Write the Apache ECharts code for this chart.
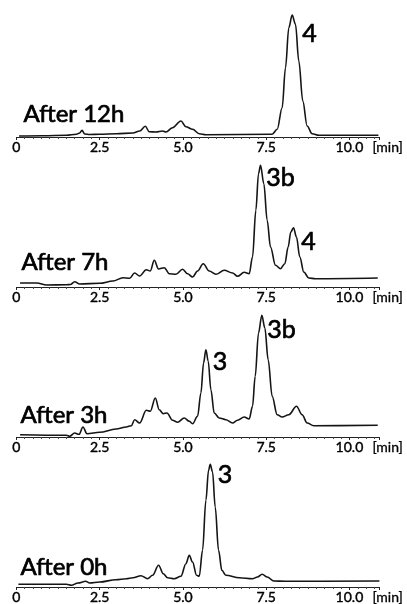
<!DOCTYPE html>
<html>
<head>
<meta charset="utf-8">
<script src="https://cdn.jsdelivr.net/npm/echarts@6/dist/echarts.min.js"></script>
<style>
html,body{margin:0;padding:0;background:#fff;}
#c{width:407px;height:604px;}
</style>
</head>
<body>
<div id="c"></div>
<script>
// ---- Data (retention time in min, detector signal in arbitrary units) ----
var panelNames = ['After 12h', 'After 7h', 'After 3h', 'After 0h'];
var xTicks = [0, 2.5, 5.0, 7.5, 10.0];

var t12 = [0.08,0.8,1.5,1.8,1.9,1.97,2.05,2.2,2.5,3.0,3.5,3.7,3.87,3.99,4.19,4.39,4.49,4.69,4.94,5.09,5.29,5.49,5.69,7.68,7.83,7.98,8.08,8.18,8.28,8.38,8.48,8.60,8.73,8.88,9.08,10.87];
var y12 = [1.0,1.3,1.7,2.7,4,6.7,3,2.5,2.7,3.3,4.0,6,10.7,5.3,5,6,5,9.3,16,10.3,7.7,3.3,2.3,2.7,7.7,29.3,69.3,109.3,122,112.7,76,36,11,3.3,1.7,1.7];

var t7 = [0.11,0.61,0.91,1.50,1.62,1.75,1.90,2.50,2.90,3.20,3.40,3.55,3.70,3.90,4.02,4.14,4.27,4.44,4.59,4.79,4.99,5.14,5.29,5.44,5.61,5.79,5.99,6.24,6.49,6.64,6.84,6.99,7.09,7.19,7.27,7.33,7.43,7.53,7.63,7.78,7.93,8.06,8.16,8.24,8.32,8.41,8.51,8.63,8.78,8.98,10.85];
var y7 = [4,4,2,2.3,2.5,5.3,3,3.7,6,9.3,8.7,14,11,17.3,16,26.7,18,19.3,13.3,12.7,17.7,13.3,10,16,23.3,16,12.7,16.7,14,10.7,14.7,13.3,30,76.7,113.3,121.7,103.3,66.7,40,21.7,18.3,23.3,40,55,59.3,50,30,15,9,8.3,9];

var t3 = [0.11,1.50,1.60,1.75,1.88,2.00,2.12,2.50,2.99,3.30,3.45,3.55,3.70,3.90,4.02,4.17,4.29,4.41,4.52,4.69,4.84,5.04,5.19,5.29,5.44,5.54,5.62,5.69,5.76,5.84,5.94,6.09,6.29,6.49,6.64,6.84,6.99,7.09,7.17,7.27,7.37,7.46,7.56,7.68,7.83,7.98,8.18,8.41,8.58,8.73,8.93,10.85];
var y3 = [2.3,1.7,0.7,4,2.7,10,3.3,4.7,8,10,11.3,17.3,14,26.7,25.7,39,27.3,23.3,24,16.7,14.7,19,15.7,13.3,20.7,44,74,87.3,75.7,47.3,24,19,17.3,14,16.7,20,18,30.7,60.7,104,121.7,109,77.3,40.7,22.3,20,22.3,30.7,22.3,14,11.3,11.7];

var t0 = [0.06,1.50,1.65,1.85,2.08,2.20,2.50,2.99,3.30,3.50,3.74,3.94,4.09,4.27,4.41,4.54,4.74,4.94,5.09,5.19,5.29,5.41,5.49,5.59,5.69,5.77,5.82,5.89,5.97,6.07,6.17,6.29,6.69,7.09,7.24,7.38,7.53,7.73,8.08,10.9];
var y0 = [2.7,2.7,1.7,4,5.7,4,5,7.3,8.3,9.3,11.3,8.3,11.7,21.7,13.3,9.3,8.3,10.7,23.3,31.7,25,11.7,10.7,36.7,86.7,116.7,122.7,115,80,36.7,16.7,11.7,9.3,8.3,10,12.7,10,6,5.7,6];

// peak annotations: [time, signal, text]
var peaks12 = [[8.57, 103.5, '4']];
var peaks7  = [[7.49, 109.5, '3b'], [8.54, 45.5, '4']];
var peaks3  = [[5.88, 75.5, '3'], [7.52, 107, '3b']];
var peaks0  = [[6.03, 112, '3']];
var nameLabelPos = [[0.2, 22.3], [0.14, 24.5], [0.11, 22], [0.11, 20]];

// ---- Build chart ----
var FONT = 'Lato, "Open Sans", sans-serif';
var times = [t12, t7, t3, t0];
var vals = [y12, y7, y3, y0];
var peaks = [peaks12, peaks7, peaks3, peaks0];
var gridTops = [12, 162, 312, 462];

function zip(a, b) { return a.map(function (v, i) { return [v, b[i]]; }); }

var grids = [], xAxes = [], yAxes = [], series = [];
for (var i = 0; i < 4; i++) {
  grids.push({ left: 16.4, width: 363, top: gridTops[i], height: 125, containLabel: false, outerBoundsMode: 'none' });
  xAxes.push({
    type: 'value', gridIndex: i, min: 0, max: 10.9, interval: 2.5,
    axisLine: { show: true, onZero: false, lineStyle: { color: '#222', width: 1 } },
    axisTick: { show: true, length: 3, lineStyle: { color: '#222' } },
    minorTick: { show: true, splitNumber: 10, length: 2, lineStyle: { color: '#444' } },
    splitLine: { show: false },
    axisLabel: {
      show: true, margin: 3, fontSize: 14, color: '#000', fontFamily: FONT,
      textBorderColor: '#000', textBorderWidth: 0.4,
      formatter: function (v) {
        if (xTicks.indexOf(v) < 0) return '';
        return v === 0 ? '0' : v.toFixed(1);
      }
    },
    name: '[min]', nameLocation: 'end', nameGap: -7,
    nameTextStyle: { fontSize: 14, color: '#000', fontFamily: FONT, align: 'left', verticalAlign: 'top', padding: [3, 0, 0, 0], textBorderColor: '#000', textBorderWidth: 0.3 }
  });
  yAxes.push({ type: 'value', gridIndex: i, min: 0, max: 125, show: false });
  var mp = peaks[i].map(function (p) { return { coord: [p[0], p[1]], name: p[2] }; });
  mp.push({ coord: nameLabelPos[i], name: panelNames[i], isName: true });
  series.push({
    type: 'line', xAxisIndex: i, yAxisIndex: i,
    data: zip(times[i], vals[i]),
    showSymbol: false, smooth: 0.35, smoothMonotone: 'x',
    lineStyle: { color: '#151515', width: 1.6 },
    silent: true, animation: false,
    markPoint: {
      symbol: 'circle', symbolSize: 1, itemStyle: { color: 'rgba(0,0,0,0)' },
      animation: false,
      label: {
        show: true, position: 'right', distance: 0, color: '#000', fontFamily: FONT,
        textBorderColor: '#000', textBorderWidth: 0.7,
        formatter: '{b}'
      },
      data: mp.map(function (d) {
        return {
          coord: d.coord, name: d.name,
          label: { fontSize: d.isName ? 24 : 25 }
        };
      })
    }
  });
}

var chart = echarts.init(document.getElementById('c'), null, { renderer: 'canvas' });
chart.setOption({
  backgroundColor: '#fff',
  animation: false,
  grid: grids, xAxis: xAxes, yAxis: yAxes, series: series
});
</script>
</body>
</html>
